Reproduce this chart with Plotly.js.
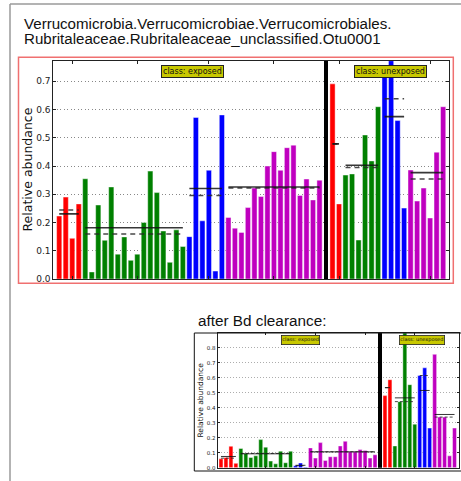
<!DOCTYPE html>
<html><head><meta charset="utf-8">
<script src="https://cdn.plot.ly/plotly-3.0.1.min.js"></script>
<style>html,body{margin:0;padding:0;background:#fff}</style></head>
<body><div id="chart" style="width:461px;height:481px"></div>
<script>
// ---- top chart (before) ----
const topExposedRed = [0.223, 0.29, 0.144, 0.266];
const topExposedGreen = [0.355, 0.025, 0.262, 0.137, 0.326, 0.088, 0.149, 0.066, 0.088, 0.2, 0.382, 0.306, 0.17, 0.059, 0.174, 0.115];
const topExposedBlue = [0.15, 0.572, 0.206, 0.385, 0.028, 0.581];
const topExposedMagenta = [0.218, 0.18, 0.165, 0.253, 0.322, 0.292, 0.4, 0.451, 0.385, 0.465, 0.474, 0.296, 0.354, 0.28, 0.35];
const topUnexposedRed = [0.691, 0.266];
const topUnexposedGreen = [0.368, 0.372, 0.138, 0.51, 0.418, 0.61];
const topUnexposedBlue = [0.715, 0.773, 0.561, 0.251];
const topUnexposedMagenta = [0.386, 0.276, 0.322, 0.216, 0.449, 0.61];
// ---- bottom chart (after Bd clearance) ----
const botExposedRed = [0.059, 0.068, 0.143, 0.029];
const botExposedGreen = [0.128, 0.095, 0.068, 0.079, 0.187, 0.137, 0.044, 0.026, 0.11, 0.033, 0.11];
const botExposedBlue = [0.013, 0.031, 0.004];
const botExposedMagenta = [0.132, 0.064, 0.167, 0.048, 0.073, 0.073, 0.145, 0.176, 0.106, 0.106, 0.121, 0.115, 0.064, 0.086];
const botUnexposedRed = [0.48, 0.586];
const botUnexposedGreen = [0.145, 0.44, 0.897, 0.553, 0.29];
const botUnexposedBlue = [0.614, 0.665, 0.264];
const botUnexposedMagenta = [0.755, 0.337, 0.337, 0.079, 0.264];

const titleLine1 = "Verrucomicrobia.Verrucomicrobiae.Verrucomicrobiales.";
const titleLine2 = "Rubritaleaceae.Rubritaleaceae_unclassified.Otu0001";
const subTitle = "after Bd clearance:";
const yTitle = "Relative abundance";
const classLabels = ["class: exposed", "class: unexposed"];

const colors = ["#ff0000", "#008000", "#0000ff", "#bf00bf"];
const W = 461, H = 481;
const px = x => x / W, py = y => 1 - y / H;

function mean(a){return a.reduce((s,v)=>s+v,0)/a.length;}
function median(a){const s=[...a].sort((p,q)=>p-q);const n=s.length;return n%2?s[(n-1)/2]:(s[n/2-1]+s[n/2])/2;}

const traces = [];
function buildChart(exposed, unexposed, xa, ya, lw, dashStr) {
  let idx = 0;
  const all = exposed.concat(unexposed).flat();
  const ymax = Math.max(...all);
  const addGroup = (vals, ci) => {
    const xs = vals.map((_, i) => idx + i);
    traces.push({type:'bar', x: xs, y: vals, width: 0.8, xaxis: xa, yaxis: ya,
      marker:{color: colors[ci], line:{color:'rgba(255,255,255,0.55)', width:0.8}},
      hoverinfo:'y', showlegend:false});
    const x0 = xs[0], x1 = xs[xs.length-1];
    traces.push({type:'scatter', mode:'lines', x:[x0,x1], y:[median(vals),median(vals)], xaxis:xa, yaxis:ya,
      line:{color:'rgba(40,40,40,0.85)', width: lw, dash: dashStr}, showlegend:false, hoverinfo:'skip'});
    traces.push({type:'scatter', mode:'lines', x:[x0,x1], y:[mean(vals),mean(vals)], xaxis:xa, yaxis:ya,
      line:{color:'rgba(20,20,20,0.85)', width: lw}, showlegend:false, hoverinfo:'skip'});
    idx += vals.length;
  };
  exposed.forEach((g, i) => addGroup(g, i));
  traces.push({type:'bar', x:[idx], y:[ymax], width:0.75, xaxis:xa, yaxis:ya,
    marker:{color:'#000'}, showlegend:false, hoverinfo:'skip'});
  idx += 1;
  unexposed.forEach((g, i) => addGroup(g, i));
  return {ymax, n: idx};
}

const topInfo = buildChart([topExposedRed, topExposedGreen, topExposedBlue, topExposedMagenta],
  [topUnexposedRed, topUnexposedGreen, topUnexposedBlue, topUnexposedMagenta], 'x', 'y', 1.6, '5px,4px');
const botInfo = buildChart([botExposedRed, botExposedGreen, botExposedBlue, botExposedMagenta],
  [botUnexposedRed, botUnexposedGreen, botUnexposedBlue, botUnexposedMagenta], 'x2', 'y2', 1, '3px,2px');

const axCommon = {showline:true, linecolor:'#222', linewidth:1, mirror:'ticks', zeroline:false, ticks:'inside', tickcolor:'#222'};

const layout = {
  width: W, height: H, margin:{l:0,r:0,t:0,b:0}, paper_bgcolor:'#fff', plot_bgcolor:'#fff',
  showlegend:false, bargap:0,
  xaxis: Object.assign({}, axCommon, {domain:[px(53.3), px(449)], range:[-0.91, 59.9], showgrid:false,
    tickvals:[2,12,23,33,43,57], showticklabels:false, ticklen:3, anchor:'y'}),
  yaxis: Object.assign({}, axCommon, {domain:[py(279), py(60.7)], range:[0, topInfo.ymax], dtick:0.1, tick0:0,
    tickformat:'.1f', ticklen:3, showgrid:true, gridcolor:'#888', griddash:'1px,2.5px', gridwidth:1,
    tickfont:{family:'DejaVu Sans', size:9, color:'#222'}, anchor:'x'}),
  xaxis2: Object.assign({}, axCommon, {domain:[px(217.7), px(459)], range:[-0.66, 47.9], showgrid:false,
    tickvals:[9,19,29,39], showticklabels:false, ticklen:2, anchor:'y2'}),
  yaxis2: Object.assign({}, axCommon, {domain:[py(467.7), py(333)], range:[0, botInfo.ymax], dtick:0.1, tick0:0,
    tickformat:'.1f', ticklen:2, showgrid:true, gridcolor:'#999', griddash:'1px,2px', gridwidth:0.8,
    tickfont:{family:'DejaVu Sans', size:5.5, color:'#222'}, anchor:'x2'}),
  shapes: [
    {type:'line', xref:'paper', yref:'paper', x0:px(10), x1:px(10), y0:py(4), y1:-0.05, line:{color:'#9a9a9a', width:1.5}},
    {type:'line', xref:'paper', yref:'paper', x0:px(10), x1:1.05, y0:py(4), y1:py(4), line:{color:'#9a9a9a', width:1.5}},
    {type:'rect', xref:'paper', yref:'paper', x0:px(18.5), x1:px(453.3), y0:py(283.3), y1:py(57.3), line:{color:'#f07070', width:1.5}},
    {type:'rect', xref:'paper', yref:'paper', x0:px(194.3), x1:1.05, y0:py(471), y1:py(333), line:{color:'#111', width:1}}
  ],
  annotations: [
    {xref:'paper', yref:'paper', x:px(21.5), y:py(23), xanchor:'left', yanchor:'middle', showarrow:false,
      text:titleLine1, font:{family:'Liberation Sans, Arial', size:15.1, color:'#111'}},
    {xref:'paper', yref:'paper', x:px(21.5), y:py(38), xanchor:'left', yanchor:'middle', showarrow:false,
      text:titleLine2, font:{family:'Liberation Sans, Arial', size:15.1, color:'#111'}},
    {xref:'paper', yref:'paper', x:px(196), y:py(320.5), xanchor:'left', yanchor:'middle', showarrow:false,
      text:subTitle, font:{family:'Liberation Sans, Arial', size:15.3, color:'#111'}},
    {xref:'paper', yref:'paper', x:px(26.5), y:py(170), xanchor:'center', yanchor:'middle', showarrow:false, textangle:-90,
      text:yTitle, font:{family:'DejaVu Sans', size:12.5, color:'#111'}},
    {xref:'paper', yref:'paper', x:px(199.5), y:py(400), xanchor:'center', yanchor:'middle', showarrow:false, textangle:-90,
      text:yTitle, font:{family:'DejaVu Sans', size:7.5, color:'#111'}},
    {xref:'paper', yref:'paper', x:px(192), y:py(71), xanchor:'center', yanchor:'middle', showarrow:false,
      text:classLabels[0], font:{family:'DejaVu Sans', size:8, color:'#111'}, bgcolor:'#c8c800', bordercolor:'#222', borderwidth:1, borderpad:1},
    {xref:'paper', yref:'paper', x:px(390), y:py(71.5), xanchor:'center', yanchor:'middle', showarrow:false,
      text:classLabels[1], font:{family:'DejaVu Sans', size:8, color:'#111'}, bgcolor:'#c8c800', bordercolor:'#222', borderwidth:1, borderpad:1},
    {xref:'paper', yref:'paper', x:px(300.3), y:py(340.2), xanchor:'center', yanchor:'middle', showarrow:false,
      text:classLabels[0], font:{family:'DejaVu Sans', size:5, color:'#111'}, bgcolor:'#c8c800', bordercolor:'#222', borderwidth:0.8, borderpad:0.5},
    {xref:'paper', yref:'paper', x:px(422), y:py(340.2), xanchor:'center', yanchor:'middle', showarrow:false,
      text:classLabels[1], font:{family:'DejaVu Sans', size:5, color:'#111'}, bgcolor:'#c8c800', bordercolor:'#222', borderwidth:0.8, borderpad:0.5}
  ]
};
Plotly.newPlot('chart', traces, layout, {staticPlot:true, displayModeBar:false});
</script></body></html>
